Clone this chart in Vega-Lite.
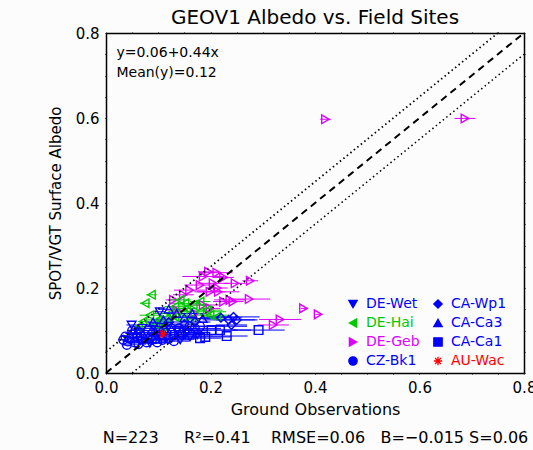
{
  "$schema": "https://vega.github.io/schema/vega-lite/v6.json",
  "autosize": {"type": "none"},
  "padding": {"left": 106, "top": 33, "right": 9, "bottom": 77},
  "width": 418,
  "height": 340,
  "background": "#fcfcfc",
  "title": {"text": "GEOV1 Albedo vs. Field Sites", "font": "DejaVu Sans", "fontSize": 20, "fontWeight": "normal", "color": "black", "offset": -2, "anchor": "middle"},
  "config": {
    "view": {"stroke": null},
    "axis": {"grid": false, "domainColor": "black", "domainWidth": 1.5, "tickColor": "black", "tickWidth": 1, "tickSize": 1, "labelFont": "DejaVu Sans", "labelFontSize": 15, "labelColor": "black", "titleFont": "DejaVu Sans", "titleFontWeight": "normal", "titleColor": "black", "labelOverlap": false, "labelFlush": false}
  },
  "datasets": {
    "pts": [
      {"site": "DE-Geb", "x": 0.186, "y": 0.227, "lo": 0.146, "hi": 0.226},
      {"site": "DE-Geb", "x": 0.212, "y": 0.236, "lo": 0.182, "hi": 0.242},
      {"site": "DE-Geb", "x": 0.196, "y": 0.238, "lo": 0.176, "hi": 0.216},
      {"site": "DE-Geb", "x": 0.205, "y": 0.211, "lo": 0.175, "hi": 0.235},
      {"site": "DE-Geb", "x": 0.215, "y": 0.191, "lo": 0.175, "hi": 0.255},
      {"site": "DE-Geb", "x": 0.199, "y": 0.191, "lo": 0.169, "hi": 0.229},
      {"site": "DE-Geb", "x": 0.247, "y": 0.211, "lo": 0.227, "hi": 0.267},
      {"site": "DE-Geb", "x": 0.276, "y": 0.217, "lo": 0.261, "hi": 0.291},
      {"site": "DE-Geb", "x": 0.274, "y": 0.174, "lo": 0.234, "hi": 0.314},
      {"site": "DE-Geb", "x": 0.237, "y": 0.172, "lo": 0.207, "hi": 0.267},
      {"site": "DE-Geb", "x": 0.225, "y": 0.168, "lo": 0.205, "hi": 0.245},
      {"site": "DE-Geb", "x": 0.148, "y": 0.184, "lo": 0.128, "hi": 0.168},
      {"site": "DE-Geb", "x": 0.129, "y": 0.172, "lo": 0.114, "hi": 0.144},
      {"site": "DE-Geb", "x": 0.135, "y": 0.148, "lo": 0.115, "hi": 0.155},
      {"site": "DE-Geb", "x": 0.186, "y": 0.160, "lo": 0.156, "hi": 0.216},
      {"site": "DE-Geb", "x": 0.199, "y": 0.152, "lo": 0.179, "hi": 0.219},
      {"site": "DE-Geb", "x": 0.378, "y": 0.152, "lo": 0.373, "hi": 0.383},
      {"site": "DE-Geb", "x": 0.406, "y": 0.138, "lo": 0.401, "hi": 0.411},
      {"site": "DE-Geb", "x": 0.333, "y": 0.126, "lo": 0.293, "hi": 0.373},
      {"site": "DE-Geb", "x": 0.320, "y": 0.113, "lo": 0.290, "hi": 0.350},
      {"site": "DE-Geb", "x": 0.180, "y": 0.207, "lo": 0.150, "hi": 0.210},
      {"site": "DE-Geb", "x": 0.213, "y": 0.200, "lo": 0.193, "hi": 0.233},
      {"site": "DE-Geb", "x": 0.420, "y": 0.597, "lo": 0.410, "hi": 0.430},
      {"site": "DE-Geb", "x": 0.687, "y": 0.599, "lo": 0.667, "hi": 0.707},
      {"site": "DE-Geb", "x": 0.160, "y": 0.195, "lo": 0.130, "hi": 0.190},
      {"site": "DE-Geb", "x": 0.225, "y": 0.225, "lo": 0.205, "hi": 0.245},
      {"site": "DE-Geb", "x": 0.170, "y": 0.140, "lo": 0.150, "hi": 0.190},
      {"site": "DE-Geb", "x": 0.243, "y": 0.168, "lo": 0.223, "hi": 0.263},
      {"site": "DE-Hai", "x": 0.087, "y": 0.184, "lo": 0.077, "hi": 0.097},
      {"site": "DE-Hai", "x": 0.075, "y": 0.164, "lo": 0.065, "hi": 0.085},
      {"site": "DE-Hai", "x": 0.142, "y": 0.172, "lo": 0.122, "hi": 0.162},
      {"site": "DE-Hai", "x": 0.151, "y": 0.164, "lo": 0.121, "hi": 0.181},
      {"site": "DE-Hai", "x": 0.132, "y": 0.156, "lo": 0.112, "hi": 0.152},
      {"site": "DE-Hai", "x": 0.167, "y": 0.160, "lo": 0.137, "hi": 0.197},
      {"site": "DE-Hai", "x": 0.180, "y": 0.168, "lo": 0.160, "hi": 0.200},
      {"site": "DE-Hai", "x": 0.122, "y": 0.140, "lo": 0.092, "hi": 0.152},
      {"site": "DE-Hai", "x": 0.148, "y": 0.140, "lo": 0.108, "hi": 0.188},
      {"site": "DE-Hai", "x": 0.180, "y": 0.144, "lo": 0.130, "hi": 0.230},
      {"site": "DE-Hai", "x": 0.199, "y": 0.136, "lo": 0.159, "hi": 0.239},
      {"site": "DE-Hai", "x": 0.212, "y": 0.132, "lo": 0.182, "hi": 0.242},
      {"site": "DE-Hai", "x": 0.084, "y": 0.136, "lo": 0.064, "hi": 0.104},
      {"site": "DE-Hai", "x": 0.071, "y": 0.121, "lo": 0.061, "hi": 0.081},
      {"site": "DE-Hai", "x": 0.062, "y": 0.109, "lo": 0.052, "hi": 0.072},
      {"site": "DE-Hai", "x": 0.100, "y": 0.125, "lo": 0.080, "hi": 0.120},
      {"site": "DE-Hai", "x": 0.116, "y": 0.129, "lo": 0.096, "hi": 0.136},
      {"site": "DE-Hai", "x": 0.132, "y": 0.132, "lo": 0.102, "hi": 0.162},
      {"site": "DE-Hai", "x": 0.154, "y": 0.152, "lo": 0.134, "hi": 0.174},
      {"site": "DE-Hai", "x": 0.193, "y": 0.148, "lo": 0.163, "hi": 0.223},
      {"site": "DE-Hai", "x": 0.110, "y": 0.109, "lo": 0.090, "hi": 0.130},
      {"site": "DE-Hai", "x": 0.160, "y": 0.125, "lo": 0.140, "hi": 0.180},
      {"site": "DE-Hai", "x": 0.095, "y": 0.115, "lo": 0.080, "hi": 0.110},
      {"site": "CA-Wp1", "x": 0.244, "y": 0.132, "lo": 0.194, "hi": 0.294},
      {"site": "CA-Wp1", "x": 0.250, "y": 0.125, "lo": 0.210, "hi": 0.290},
      {"site": "CA-Wp1", "x": 0.240, "y": 0.113, "lo": 0.210, "hi": 0.270},
      {"site": "CA-Wp1", "x": 0.235, "y": 0.125, "lo": 0.185, "hi": 0.285},
      {"site": "CA-Wp1", "x": 0.220, "y": 0.130, "lo": 0.180, "hi": 0.260},
      {"site": "CA-Wp1", "x": 0.170, "y": 0.120, "lo": 0.140, "hi": 0.200},
      {"site": "CA-Wp1", "x": 0.150, "y": 0.115, "lo": 0.130, "hi": 0.170},
      {"site": "CA-Wp1", "x": 0.120, "y": 0.120, "lo": 0.100, "hi": 0.140},
      {"site": "CA-Ca1", "x": 0.292, "y": 0.101, "lo": 0.242, "hi": 0.342},
      {"site": "CA-Ca1", "x": 0.231, "y": 0.087, "lo": 0.191, "hi": 0.271},
      {"site": "CA-Ca1", "x": 0.218, "y": 0.101, "lo": 0.158, "hi": 0.278},
      {"site": "CA-Ca1", "x": 0.202, "y": 0.101, "lo": 0.152, "hi": 0.252},
      {"site": "CA-Ca1", "x": 0.180, "y": 0.082, "lo": 0.140, "hi": 0.220},
      {"site": "CA-Ca1", "x": 0.190, "y": 0.085, "lo": 0.140, "hi": 0.240},
      {"site": "CA-Ca1", "x": 0.160, "y": 0.090, "lo": 0.130, "hi": 0.190},
      {"site": "CA-Ca1", "x": 0.140, "y": 0.095, "lo": 0.100, "hi": 0.180},
      {"site": "DE-Wet", "x": 0.049, "y": 0.113, "lo": 0.039, "hi": 0.059},
      {"site": "DE-Wet", "x": 0.103, "y": 0.144, "lo": 0.093, "hi": 0.113},
      {"site": "DE-Wet", "x": 0.091, "y": 0.109, "lo": 0.071, "hi": 0.111},
      {"site": "DE-Wet", "x": 0.116, "y": 0.082, "lo": 0.096, "hi": 0.136},
      {"site": "DE-Wet", "x": 0.142, "y": 0.078, "lo": 0.122, "hi": 0.162},
      {"site": "DE-Wet", "x": 0.161, "y": 0.085, "lo": 0.131, "hi": 0.191},
      {"site": "DE-Wet", "x": 0.084, "y": 0.070, "lo": 0.064, "hi": 0.104},
      {"site": "DE-Wet", "x": 0.065, "y": 0.075, "lo": 0.045, "hi": 0.085},
      {"site": "DE-Wet", "x": 0.070, "y": 0.105, "lo": 0.055, "hi": 0.085},
      {"site": "DE-Wet", "x": 0.120, "y": 0.110, "lo": 0.100, "hi": 0.140},
      {"site": "DE-Wet", "x": 0.135, "y": 0.100, "lo": 0.115, "hi": 0.155},
      {"site": "DE-Wet", "x": 0.100, "y": 0.092, "lo": 0.080, "hi": 0.120},
      {"site": "DE-Wet", "x": 0.155, "y": 0.095, "lo": 0.125, "hi": 0.185},
      {"site": "DE-Wet", "x": 0.175, "y": 0.090, "lo": 0.145, "hi": 0.205},
      {"site": "CA-Ca3", "x": 0.120, "y": 0.150, "lo": 0.100, "hi": 0.140},
      {"site": "CA-Ca3", "x": 0.135, "y": 0.140, "lo": 0.115, "hi": 0.155},
      {"site": "CA-Ca3", "x": 0.150, "y": 0.130, "lo": 0.130, "hi": 0.170},
      {"site": "CA-Ca3", "x": 0.110, "y": 0.125, "lo": 0.090, "hi": 0.130},
      {"site": "CA-Ca3", "x": 0.090, "y": 0.120, "lo": 0.075, "hi": 0.105},
      {"site": "CA-Ca3", "x": 0.165, "y": 0.140, "lo": 0.145, "hi": 0.185},
      {"site": "CA-Ca3", "x": 0.185, "y": 0.128, "lo": 0.155, "hi": 0.215},
      {"site": "CA-Ca3", "x": 0.060, "y": 0.100, "lo": 0.050, "hi": 0.070},
      {"site": "CZ-Bk1", "x": 0.033, "y": 0.078, "lo": 0.023, "hi": 0.043},
      {"site": "CZ-Bk1", "x": 0.040, "y": 0.066, "lo": 0.030, "hi": 0.050},
      {"site": "CZ-Bk1", "x": 0.037, "y": 0.086, "lo": 0.027, "hi": 0.047},
      {"site": "CZ-Bk1", "x": 0.052, "y": 0.093, "lo": 0.037, "hi": 0.067},
      {"site": "CZ-Bk1", "x": 0.045, "y": 0.080, "lo": 0.035, "hi": 0.055},
      {"site": "CZ-Bk1", "x": 0.055, "y": 0.072, "lo": 0.040, "hi": 0.070},
      {"site": "CZ-Bk1", "x": 0.060, "y": 0.085, "lo": 0.040, "hi": 0.080},
      {"site": "CZ-Bk1", "x": 0.065, "y": 0.095, "lo": 0.045, "hi": 0.085},
      {"site": "CZ-Bk1", "x": 0.070, "y": 0.080, "lo": 0.050, "hi": 0.090},
      {"site": "CZ-Bk1", "x": 0.075, "y": 0.090, "lo": 0.050, "hi": 0.100},
      {"site": "CZ-Bk1", "x": 0.080, "y": 0.100, "lo": 0.060, "hi": 0.100},
      {"site": "CZ-Bk1", "x": 0.085, "y": 0.085, "lo": 0.055, "hi": 0.115},
      {"site": "CZ-Bk1", "x": 0.090, "y": 0.095, "lo": 0.060, "hi": 0.120},
      {"site": "CZ-Bk1", "x": 0.095, "y": 0.080, "lo": 0.070, "hi": 0.120},
      {"site": "CZ-Bk1", "x": 0.100, "y": 0.100, "lo": 0.070, "hi": 0.130},
      {"site": "CZ-Bk1", "x": 0.105, "y": 0.090, "lo": 0.075, "hi": 0.135},
      {"site": "CZ-Bk1", "x": 0.110, "y": 0.100, "lo": 0.070, "hi": 0.150},
      {"site": "CZ-Bk1", "x": 0.115, "y": 0.095, "lo": 0.085, "hi": 0.145},
      {"site": "CZ-Bk1", "x": 0.125, "y": 0.105, "lo": 0.085, "hi": 0.165},
      {"site": "CZ-Bk1", "x": 0.130, "y": 0.090, "lo": 0.090, "hi": 0.170},
      {"site": "CZ-Bk1", "x": 0.140, "y": 0.105, "lo": 0.100, "hi": 0.180},
      {"site": "CZ-Bk1", "x": 0.145, "y": 0.090, "lo": 0.095, "hi": 0.195},
      {"site": "CZ-Bk1", "x": 0.150, "y": 0.100, "lo": 0.110, "hi": 0.190},
      {"site": "CZ-Bk1", "x": 0.160, "y": 0.110, "lo": 0.110, "hi": 0.210},
      {"site": "CZ-Bk1", "x": 0.170, "y": 0.105, "lo": 0.120, "hi": 0.220},
      {"site": "CZ-Bk1", "x": 0.180, "y": 0.110, "lo": 0.130, "hi": 0.270},
      {"site": "CZ-Bk1", "x": 0.050, "y": 0.100, "lo": 0.040, "hi": 0.060},
      {"site": "CZ-Bk1", "x": 0.042, "y": 0.074, "lo": 0.032, "hi": 0.052},
      {"site": "CZ-Bk1", "x": 0.062, "y": 0.068, "lo": 0.047, "hi": 0.077},
      {"site": "CZ-Bk1", "x": 0.078, "y": 0.072, "lo": 0.058, "hi": 0.098},
      {"site": "CZ-Bk1", "x": 0.088, "y": 0.078, "lo": 0.063, "hi": 0.113},
      {"site": "CZ-Bk1", "x": 0.098, "y": 0.072, "lo": 0.073, "hi": 0.123},
      {"site": "CZ-Bk1", "x": 0.108, "y": 0.078, "lo": 0.083, "hi": 0.133},
      {"site": "CZ-Bk1", "x": 0.120, "y": 0.080, "lo": 0.090, "hi": 0.150},
      {"site": "CZ-Bk1", "x": 0.130, "y": 0.075, "lo": 0.100, "hi": 0.160},
      {"site": "AU-Wac", "x": 0.109, "y": 0.092, "lo": 0.109, "hi": 0.109}
    ],
    "lines": [
      {"line": "one", "x": 0.0, "y": 0.0},
      {"line": "one", "x": 0.8, "y": 0.8},
      {"line": "upper", "x": 0.0, "y": 0.05},
      {"line": "upper", "x": 0.75, "y": 0.8},
      {"line": "lower", "x": 0.05, "y": 0.0},
      {"line": "lower", "x": 0.8, "y": 0.75}
    ],
    "notes": [
      {"x": 0.02, "y": 0.753, "text": "y=0.06+0.44x"},
      {"x": 0.02, "y": 0.707, "text": "Mean(y)=0.12"}
    ]
  },
  "layer": [
    {
      "data": {"name": "pts"},
      "mark": {"type": "rule", "strokeWidth": 1},
      "encoding": {
        "x": {"field": "lo", "type": "quantitative", "scale": {"domain": [0, 0.8], "nice": false, "zero": false}, "axis": null},
        "x2": {"field": "hi"},
        "y": {"field": "y", "type": "quantitative", "scale": {"domain": [0, 0.8], "nice": false, "zero": false}, "axis": null},
        "color": {"field": "site", "type": "nominal",
          "scale": {"domain": ["DE-Wet", "DE-Hai", "DE-Geb", "CZ-Bk1", "CA-Wp1", "CA-Ca3", "CA-Ca1", "AU-Wac"],
                    "range": ["#0000ff", "#00c800", "#dd00ff", "#0000ff", "#0000ff", "#0000ff", "#0000ff", "#ff0000"]},
          "legend": {"title": null, "orient": "none", "legendX": 240, "legendY": 264, "columns": 2, "columnPadding": 11, "rowPadding": 5,
            "labelFont": "DejaVu Sans", "labelFontSize": 14, "labelOffset": 6, "symbolSize": 70, "symbolStrokeWidth": 1.3, "padding": 0,
            "encode": {"symbols": {"update": {"fill": {"scale": "color", "field": "value"}}}, "labels": {"update": {"fill": {"scale": "color", "field": "value"}}}}}}
      }
    },
    {
      "data": {"name": "pts"},
      "mark": {"type": "point", "filled": false, "size": 75, "strokeWidth": 1.4, "opacity": 1},
      "encoding": {
        "x": {"field": "x", "type": "quantitative", "scale": {"domain": [0, 0.8], "nice": false, "zero": false},
          "axis": {"orient": "top", "labels": false, "title": null, "domain": true,
            "values": [0, 0.05, 0.1, 0.15, 0.2, 0.25, 0.3, 0.35, 0.4, 0.45, 0.5, 0.55, 0.6, 0.65, 0.7, 0.75, 0.8],
            "encode": {"ticks": {"update": {"y": {"value": 0}, "y2": {"signal": "abs(datum.value*5 - round(datum.value*5)) < 0.001 ? 10 : 5"}}}}}},
        "y": {"field": "y", "type": "quantitative", "scale": {"domain": [0, 0.8], "nice": false, "zero": false},
          "axis": {"orient": "right", "labels": false, "title": null, "domain": true,
            "values": [0, 0.05, 0.1, 0.15, 0.2, 0.25, 0.3, 0.35, 0.4, 0.45, 0.5, 0.55, 0.6, 0.65, 0.7, 0.75, 0.8],
            "encode": {"ticks": {"update": {"x": {"value": 0}, "x2": {"signal": "abs(datum.value*5 - round(datum.value*5)) < 0.001 ? -10 : -5"}}}}}},
        "color": {"field": "site", "type": "nominal",
          "scale": {"domain": ["DE-Wet", "DE-Hai", "DE-Geb", "CZ-Bk1", "CA-Wp1", "CA-Ca3", "CA-Ca1", "AU-Wac"],
                    "range": ["#0000ff", "#00c800", "#dd00ff", "#0000ff", "#0000ff", "#0000ff", "#0000ff", "#ff0000"]},
          "legend": {"title": null, "orient": "none", "legendX": 240, "legendY": 264, "columns": 2, "columnPadding": 11, "rowPadding": 5,
            "labelFont": "DejaVu Sans", "labelFontSize": 14, "labelOffset": 6, "symbolSize": 70, "symbolStrokeWidth": 1.3, "padding": 0,
            "encode": {"symbols": {"update": {"fill": {"scale": "color", "field": "value"}}}, "labels": {"update": {"fill": {"scale": "color", "field": "value"}}}}}},
        "shape": {"field": "site", "type": "nominal",
          "scale": {"domain": ["DE-Wet", "DE-Hai", "DE-Geb", "CZ-Bk1", "CA-Wp1", "CA-Ca3", "CA-Ca1", "AU-Wac"],
                    "range": ["triangle-down", "triangle-left", "triangle-right", "circle", "diamond", "triangle-up", "square", "M-1,0L1,0M0,-1L0,1M-0.7,-0.7L0.7,0.7M-0.7,0.7L0.7,-0.7"]}}
      }
    },
    {
      "data": {"name": "lines"},
      "mark": {"type": "line", "color": "black"},
      "encoding": {
        "x": {"field": "x", "type": "quantitative", "scale": {"domain": [0, 0.8], "nice": false, "zero": false},
          "axis": {"orient": "bottom", "title": ["Ground Observations", "N=223\u00a0\u00a0\u00a0\u00a0\u00a0R²=0.41\u00a0\u00a0\u00a0\u00a0RMSE=0.06\u00a0\u00a0\u00a0B=\u22120.015\u00a0S=0.06"], "titleFontSize": 16, "titleLineHeight": 28, "titlePadding": 6,
            "values": [0, 0.05, 0.1, 0.15, 0.2, 0.25, 0.3, 0.35, 0.4, 0.45, 0.5, 0.55, 0.6, 0.65, 0.7, 0.75, 0.8],
            "labelExpr": "abs(datum.value*5 - round(datum.value*5)) < 0.001 ? format(datum.value, '.1f') : ''",
            "labelPadding": 6,
            "encode": {"ticks": {"update": {"y": {"value": 0}, "y2": {"signal": "abs(datum.value*5 - round(datum.value*5)) < 0.001 ? -10 : -5"}}}}}},
        "y": {"field": "y", "type": "quantitative", "scale": {"domain": [0, 0.8], "nice": false, "zero": false},
          "axis": {"orient": "left", "title": "SPOT/VGT Surface Albedo", "titleFontSize": 15, "titlePadding": 12,
            "values": [0, 0.05, 0.1, 0.15, 0.2, 0.25, 0.3, 0.35, 0.4, 0.45, 0.5, 0.55, 0.6, 0.65, 0.7, 0.75, 0.8],
            "labelExpr": "abs(datum.value*5 - round(datum.value*5)) < 0.001 ? format(datum.value, '.1f') : ''",
            "labelPadding": 6,
            "encode": {"ticks": {"update": {"x": {"value": 0}, "x2": {"signal": "abs(datum.value*5 - round(datum.value*5)) < 0.001 ? 10 : 5"}}}}}},
        "detail": {"field": "line"},
        "strokeDash": {"field": "line", "type": "nominal", "legend": null,
          "scale": {"domain": ["one", "upper", "lower"], "range": [[7, 5], [1.5, 3], [1.5, 3]]}},
        "strokeWidth": {"field": "line", "type": "nominal", "legend": null,
          "scale": {"domain": ["one", "upper", "lower"], "range": [2, 1.5, 1.5]}}
      }
    },
    {
      "data": {"name": "notes"},
      "mark": {"type": "text", "align": "left", "baseline": "middle", "font": "DejaVu Sans", "fontSize": 14, "color": "black"},
      "encoding": {
        "x": {"field": "x", "type": "quantitative", "scale": {"domain": [0, 0.8], "nice": false, "zero": false}, "axis": null},
        "y": {"field": "y", "type": "quantitative", "scale": {"domain": [0, 0.8], "nice": false, "zero": false}, "axis": null},
        "text": {"field": "text"}
      }
    }
  ],
  "resolve": {"scale": {"x": "shared", "y": "shared"}, "axis": {"x": "independent", "y": "independent"}}
}
